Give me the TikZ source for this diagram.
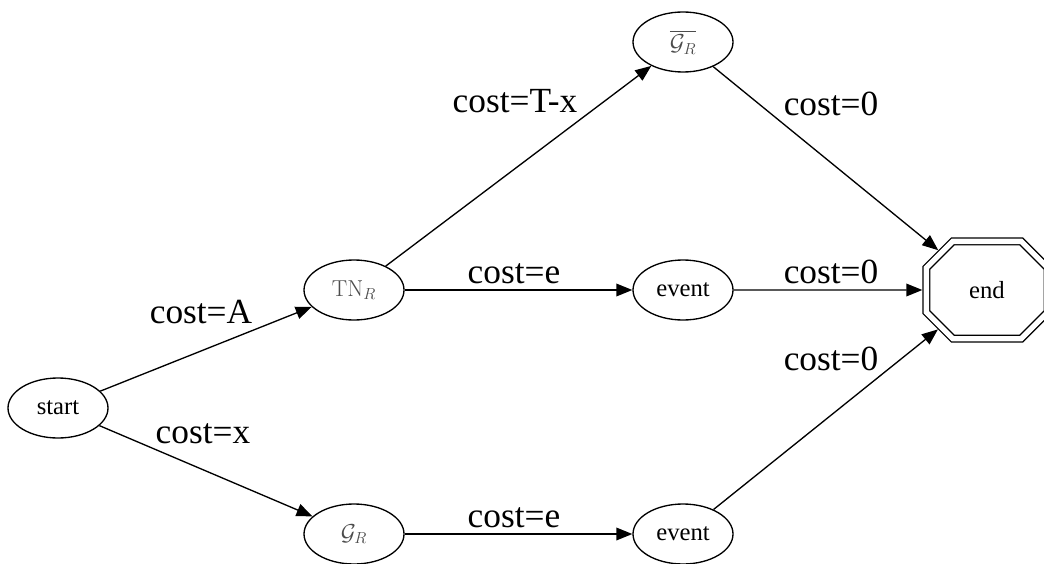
\documentclass[tikz,border=0pt]{standalone}
\usepackage{amsmath}
\usepackage{amssymb}
\usepackage[no-math]{fontspec}
\setmainfont{Liberation Serif}
\usetikzlibrary{shapes.geometric,shapes.misc,arrows.meta}

\begin{document}
\begin{tikzpicture}[x=0.75pt,y=-0.75pt,
	st/.style={ellipse,draw,line width=1pt,minimum width=75pt,minimum height=45pt,inner sep=0pt,font=\fontsize{18.5}{22}\selectfont},
	fin/.style={chamfered rectangle,chamfered rectangle xsep=30pt,chamfered rectangle ysep=30pt,draw,double,double distance=4pt,line width=1pt,minimum width=91pt,minimum height=73pt,inner sep=0pt,outer sep=3pt,font=\fontsize{18.5}{22}\selectfont},
	lbl/.style={anchor=base,inner sep=0pt,font=\fontsize{26.5}{30}\selectfont},
	>={Triangle[length=12pt,width=9.5pt]}]

	\useasboundingbox (0,0) rectangle (1044,563);

	\node[st] (start) at (58,408) {start};
	\node[st] (tn) at (354,290) {\color{black!70}$\mathrm{TN}_R$};
	\node[st] (gbar) at (683,42) {\color{black!70}$\overline{\mathcal{G}_R}$};
	\node[st] (ev1) at (683,290) {event};
	\node[st] (gr) at (354,534) {\color{black!70}$\mathcal{G}_R$};
	\node[st] (ev2) at (683,534) {event};
	\node[fin] (end) at (987,290) {end};

	\path[->,line width=1pt] (start) edge (tn);
	\path[->,line width=1pt] (start) edge (gr);
	\path[->,line width=1pt] (tn) edge (gbar);
	\path[->,line width=1pt] (tn) edge (ev1);
	\path[->,line width=1pt] (gr) edge (ev2);
	\path[->,line width=1pt] (gbar) edge (end);
	\path[->,line width=1pt] (ev1) edge (end);
	\path[->,line width=1pt] (ev2) edge (end);

	\node[lbl] (lA) at (201,323) {cost=A};
	\node[lbl] (lx) at (203,443) {cost=x};
	\node[lbl] (lTx) at (515,113) {cost=T-x};
	\node[lbl] (le1) at (514,283) {cost=e};
	\node[lbl] (le2) at (514,527) {cost=e};
	\node[lbl] (l01) at (831,116) {cost=0};
	\node[lbl] (l02) at (831,283) {cost=0};
	\node[lbl] (l03) at (831,370) {cost=0};

\end{tikzpicture}
\end{document}
